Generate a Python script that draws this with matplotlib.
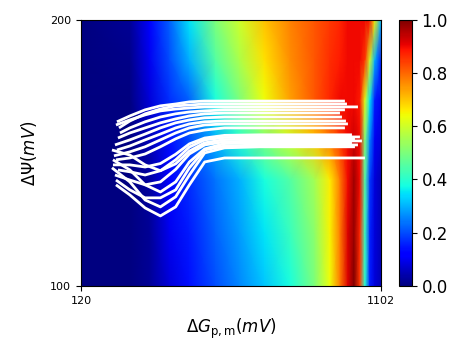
import numpy as np
import matplotlib.pyplot as plt

grid_x = [120, 280, 345, 410, 475, 560, 640, 720, 805, 885, 935, 968, 994, 1014, 1033, 1050, 1066, 1082, 1102]
grid_y = [100, 120, 140, 155, 170, 185, 200]

row_100 = [0, 0, 0.02, 0.08, 0.14, 0.2, 0.26, 0.32, 0.38, 0.5, 0.64, 0.78, 0.92, 1.0, 0.85, 0.4, 0.15, 0.08, 0.05]
row_120 = [0, 0, 0.02, 0.1, 0.15, 0.22, 0.28, 0.35, 0.42, 0.52, 0.65, 0.78, 0.92, 0.98, 0.87, 0.42, 0.16, 0.08, 0.05]
row_140 = [0, 0, 0.03, 0.12, 0.17, 0.24, 0.3, 0.38, 0.45, 0.55, 0.66, 0.78, 0.9, 0.97, 0.9, 0.45, 0.18, 0.08, 0.05]
row_155 = [0, 0, 0.05, 0.14, 0.2, 0.3, 0.4, 0.5, 0.6, 0.7, 0.78, 0.85, 0.9, 0.93, 0.9, 0.5, 0.25, 0.1, 0.08]
row_170 = [0, 0, 0.08, 0.17, 0.22, 0.38, 0.5, 0.64, 0.74, 0.82, 0.87, 0.9, 0.9, 0.9, 0.88, 0.62, 0.35, 0.15, 0.1]
row_185 = [0, 0.01, 0.1, 0.2, 0.3, 0.45, 0.56, 0.67, 0.76, 0.82, 0.86, 0.88, 0.9, 0.9, 0.9, 0.85, 0.6, 0.3, 0.15]
row_200 = [0, 0.02, 0.12, 0.22, 0.35, 0.5, 0.6, 0.7, 0.77, 0.82, 0.85, 0.87, 0.9, 0.9, 0.9, 0.9, 0.88, 0.65, 0.3]

# trajectories: shared inner x positions, own start / end x per line
inner_x = [280, 330, 380, 430, 475, 525, 590, 705]
start_x = [237.8, 244.4, 234.6, 247.6, 241.1, 231.3, 237.8, 228.0, 234.6,
           224.7, 241.1, 221.5, 231.3, 224.7, 234.6, 221.5, 234.6]
end_x = [984, 990.7, 1026.7, 984, 967.8, 974.3, 987.4, 993.9, 984,
         1007, 1033.2, 1016.8, 1039.7, 1007, 1026.7, 1016.8, 1049.6]
traj_y = [
    [161.7, 163.9, 166.2, 167.7, 168.4, 169.2, 169.5, 169.5, 169.5, 169.5],
    [159.4, 162.0, 164.7, 166.5, 167.7, 168.0, 168.4, 168.4, 168.4, 168.4],
    [160.5, 162.4, 164.3, 165.8, 166.5, 166.9, 167.3, 167.3, 167.3, 167.3],
    [157.5, 159.4, 161.7, 163.5, 164.7, 165.4, 165.8, 166.2, 166.2, 166.2],
    [155.6, 157.5, 159.4, 161.3, 162.8, 163.9, 164.7, 165.0, 165.0, 165.0],
    [153.0, 154.9, 157.1, 159.4, 161.3, 162.4, 163.2, 163.5, 163.5, 163.5],
    [151.1, 152.6, 154.9, 157.1, 159.4, 160.9, 161.7, 162.0, 162.0, 162.0],
    [148.9, 150.4, 152.3, 154.9, 157.5, 159.4, 160.5, 160.9, 160.9, 160.9],
    [147.4, 148.1, 149.6, 152.3, 155.3, 157.5, 158.6, 159.4, 159.4, 159.4],
    [145.5, 145.5, 144.7, 146.0, 149.5, 153.4, 155.6, 156.6, 156.8, 156.8],
    [143.6, 142.9, 141.7, 143.3, 147.4, 152.2, 154.9, 155.8, 156.0, 156.0],
    [151.1, 149.2, 145.5, 143.3, 145.9, 150.7, 153.8, 155.0, 155.3, 155.3],
    [141.7, 139.8, 138.0, 139.1, 143.8, 149.6, 153.0, 154.2, 154.5, 154.5],
    [147.4, 143.6, 138.0, 135.3, 139.1, 146.6, 151.5, 153.5, 153.8, 153.8],
    [139.8, 136.1, 133.1, 133.1, 136.1, 144.4, 151.1, 152.6, 153.0, 153.0],
    [144.4, 139.1, 132.3, 129.7, 133.5, 141.7, 150.0, 151.9, 152.3, 152.3],
    [138.0, 134.2, 129.3, 126.3, 129.7, 138.0, 146.6, 148.1, 148.1, 148.1],
]

field = np.array([row_100, row_120, row_140, row_155, row_170, row_185, row_200])

fig = plt.figure(figsize=(4.68, 3.44), dpi=100)
ax = fig.add_axes([0.173, 0.169, 0.641, 0.773])
cax = fig.add_axes([0.853, 0.169, 0.027, 0.773])

mesh = ax.pcolormesh(grid_x, grid_y, field, shading='gouraud', cmap='jet', vmin=0, vmax=1)

for sx, ex, ys in zip(start_x, end_x, traj_y):
    xs = [sx] + inner_x + [ex]
    ax.plot(xs, ys, color='white', lw=2.0, solid_capstyle='butt', solid_joinstyle='round')

ax.set_xlim(120, 1102)
ax.set_ylim(100, 200)
ax.set_xticks([120, 1102])
ax.set_yticks([100, 200])
ax.tick_params(labelsize=8)
ax.set_xlabel(r'$\Delta G_{\mathrm{p,m}}(mV)$', fontsize=12, labelpad=8)
ax.set_ylabel(r'$\Delta\Psi(mV)$', fontsize=12, labelpad=8)

cb = fig.colorbar(mesh, cax=cax)
cb.set_ticks([0, 0.2, 0.4, 0.6, 0.8, 1.0])
cb.ax.tick_params(labelsize=12)

fig.savefig('out.png', dpi=100)
